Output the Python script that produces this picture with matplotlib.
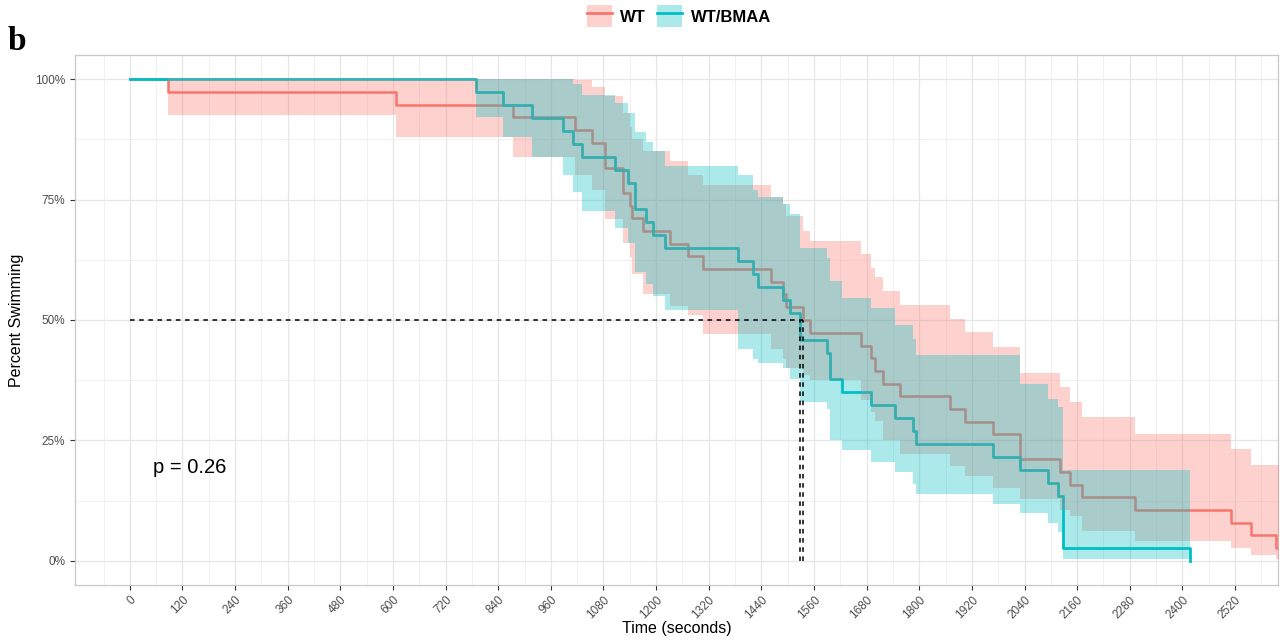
import numpy as np
import matplotlib
matplotlib.use("Agg")
import matplotlib.pyplot as plt
from matplotlib.patches import Patch
from matplotlib.lines import Line2D
from matplotlib.ticker import FixedLocator, PercentFormatter

plt.rcParams['font.family'] = ['Liberation Sans', 'DejaVu Sans']

# ______ data (Kaplan-Meier steps + 95% CI)
wt_time = [0, 87, 607, 873, 1015, 1053, 1083, 1125, 1140, 1144, 1170, 1232, 1273, 1307, 1463, 1490,
           1497, 1535, 1551, 1668, 1691, 1699, 1718, 1756, 1870, 1904, 1969, 2030, 2121, 2144, 2170,
           2293, 2510, 2556, 2614]
wt_surv = [1, .974, .947, .921, .895, .868, .816, .763, .737, .711, .684, .658, .632, .605, .579, .553,
           .526, .500, .474, .447, .421, .395, .368, .342, .316, .289, .263, .211, .184, .158, .132,
           .105, .079, .053, .026]
wt_lower = [1, .925, .88, .838, .80, .77, .71, .66, .63, .595, .555, .53, .51, .47, .44, .42,
            .40, .385, .375, .335, .31, .29, .25, .222, .198, .177, .152, .128, .105, .094, .063,
            .041, .027, .013, .005]
wt_upper = [1, 1, 1, 1, .998, .984, .965, .93, .90, .875, .85, .83, .80, .78, .755, .74,
            .715, .685, .664, .636, .607, .59, .56, .532, .503, .476, .445, .389, .361, .33, .298,
            .264, .232, .20, .20]
wt_last = 2625

bm_time = [0, 789, 851, 916, 988, 1011, 1030, 1106, 1136, 1152, 1178, 1193, 1220, 1387, 1421, 1432,
           1490, 1505, 1528, 1589, 1596, 1623, 1691, 1745, 1786, 1793, 1969, 2030, 2094, 2117, 2127, 2417]
bm_surv = [1, .973, .946, .919, .892, .865, .838, .811, .784, .730, .703, .676, .649, .622, .595, .568,
           .541, .514, .459, .432, .378, .351, .324, .297, .270, .243, .216, .189, .162, .135, .027, 0]
bm_lower = [1, .921, .88, .838, .80, .765, .726, .69, .66, .60, .575, .55, .52, .44, .42, .41,
            .40, .378, .33, .315, .25, .23, .205, .184, .16, .138, .118, .10, .079, .06, .004, 0]
bm_upper = [1, 1, 1, 1, 1, .99, .967, .95, .93, .89, .87, .85, .82, .80, .77, .755,
            .74, .72, .65, .628, .58, .545, .524, .49, .46, .428, .428, .368, .337, .32, .188, .188]
bm_last = 2417

groups = ["WT", "WT/BMAA"]
p_value = 0.26
x_ticks = list(range(0, 2521, 120))

red, teal = "#F8766D", "#00BFC4"

fig = plt.figure(figsize=(12.88, 6.43), dpi=100)
ax = fig.add_axes([75 / 1288, 1 - 585 / 643, (1278 - 75) / 1288, (585 - 55) / 643])


def extend(t, v, last):
    t = list(t); v = list(v)
    if last > t[-1]:
        t.append(last); v.append(v[-1])
    return np.array(t), np.array(v)


# lines first, ribbons on top (like survminer)
for tt, ss, last, col, lw in [(wt_time, wt_surv, wt_last, red, 1.8),
                              (bm_time, bm_surv, bm_last, teal, 2.0)]:
    t, s = extend(tt, ss, last)
    ax.step(t, s, where="post", color=col, lw=lw, zorder=2)

for tt, lo, hi, last, col, z in [(wt_time, wt_lower, wt_upper, wt_last, red, 3),
                                 (bm_time, bm_lower, bm_upper, bm_last, teal, 4)]:
    t, l = extend(tt, lo, last)
    _, h = extend(tt, hi, last)
    ax.fill_between(t, l, h, step="post", color=col, alpha=0.33, lw=0, zorder=z)

# median lines
def median(t, s):
    for ti, si in zip(t, s):
        if si <= 0.5:
            return ti

meds = [median(wt_time, wt_surv), median(bm_time, bm_surv)]
ax.plot([0, max(meds)], [0.5, 0.5], ls=(0, (3, 3)), color="black", lw=1.1, zorder=5)
for m in meds:
    ax.plot([m, m], [0, 0.5], ls=(0, (3, 3)), color="black", lw=1.1, zorder=5)

ax.text(52, 0.194, "p = %.2f" % p_value, fontsize=14.5, ha="left", va="center", color="black")

# axes styling
ax.set_xlim(-125, 2618)
ax.set_ylim(-0.05, 1.05)
ax.set_xticks(x_ticks)
ax.xaxis.set_minor_locator(FixedLocator(np.arange(-60, 2620, 120)))
ax.set_yticks([0, .25, .5, .75, 1])
ax.yaxis.set_minor_locator(FixedLocator([.125, .375, .625, .875]))
ax.yaxis.set_major_formatter(PercentFormatter(1.0, decimals=0))
ax.set_xticklabels([str(x) for x in x_ticks], rotation=45, ha="right", va="top",
                   rotation_mode="anchor")
ax.tick_params(axis="both", which="major", labelsize=8.5, labelcolor="#4D4D4D",
               color="#333333", length=3.5, width=0.8)
ax.tick_params(axis="x", which="major", pad=3)
ax.tick_params(which="minor", length=0)
ax.grid(which="major", color="#E6E6E6", lw=0.9, zorder=0)
ax.grid(which="minor", color="#EFEFEF", lw=0.6, zorder=0)
ax.set_axisbelow(True)
for sp in ax.spines.values():
    sp.set_color("#C8C8C8")
    sp.set_linewidth(0.9)

ax.set_xlabel("Time (seconds)", fontsize=11.5, labelpad=0)
ax.set_ylabel("Percent Swimming", fontsize=11.5, labelpad=8)

# legend
handles = [(Patch(facecolor=c, alpha=0.33, lw=0), Line2D([], [], color=c, lw=2)) for c in (red, teal)]
fig.legend(handles, groups, loc="upper center", bbox_to_anchor=(0.527, 1.015), ncol=2,
           frameon=False, prop={"weight": "bold", "size": 12}, handlelength=1.5,
           handleheight=1.6, columnspacing=0.7, handletextpad=0.5)

fig.text(8 / 1288, 1 - 50 / 643, "b", fontsize=24, fontweight="bold", family="Liberation Serif")

fig.savefig("out.png", dpi=100)
